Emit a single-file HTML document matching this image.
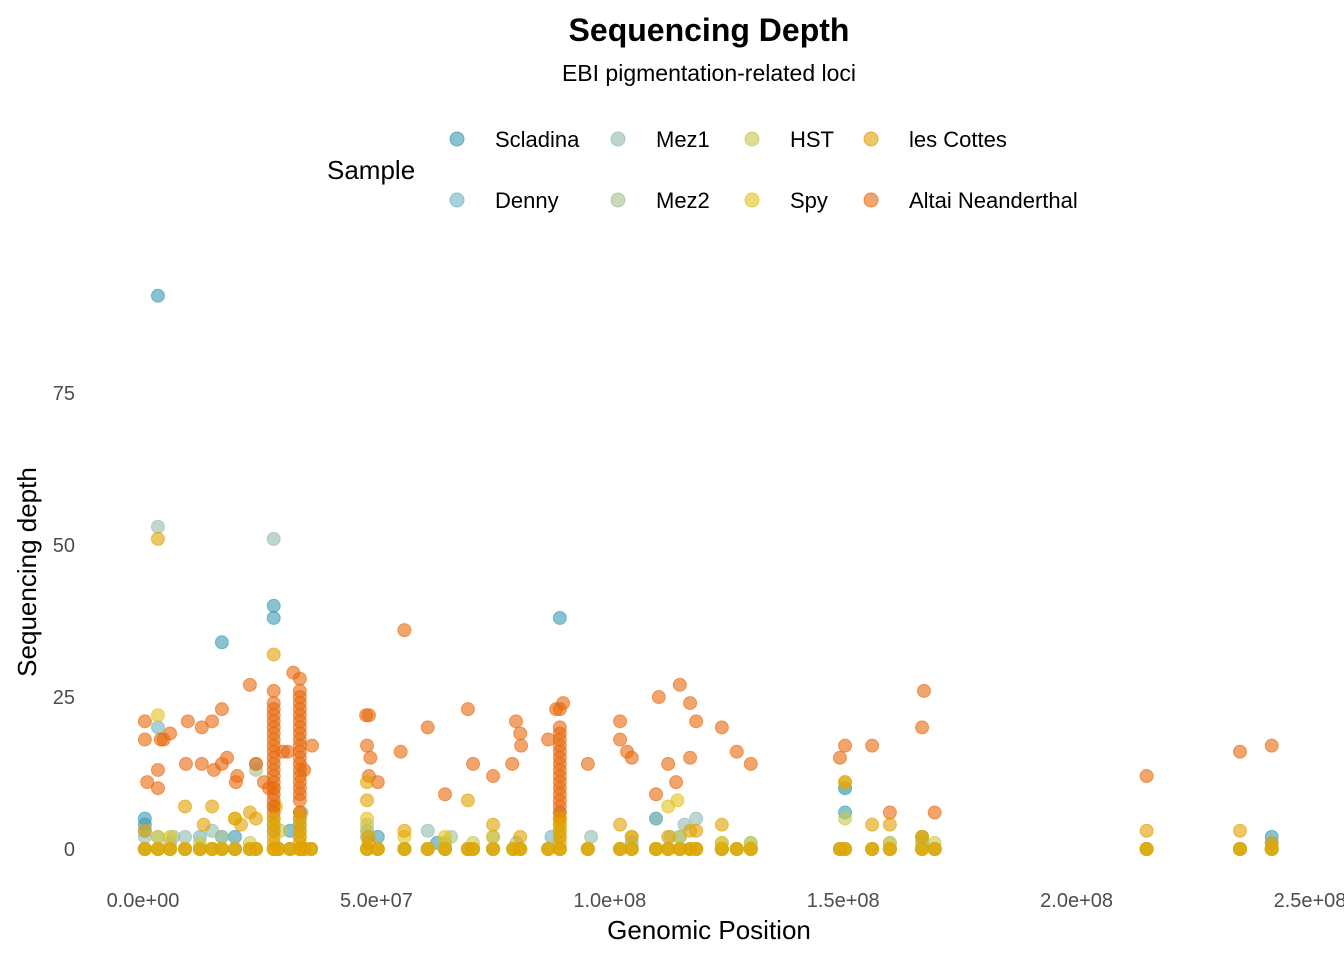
<!DOCTYPE html>
<html><head><meta charset="utf-8"><style>
body{margin:0;background:#fff;}
svg text{font-family:"Liberation Sans",sans-serif;}
</style></head><body>
<svg id="chart" width="1344" height="960" xmlns="http://www.w3.org/2000/svg">
<text x="709" y="41" text-anchor="middle" font-size="32" font-weight="bold" fill="#000">Sequencing Depth</text>
<text x="709" y="81" text-anchor="middle" font-size="23" fill="#000">EBI pigmentation-related loci</text>
<text x="327" y="179" font-size="26" fill="#000">Sample</text>
<g id="legend"></g>
<g id="yticks"></g>
<g id="xticks"></g>
<g id="points"></g>
<text x="709" y="939" text-anchor="middle" font-size="26" fill="#000">Genomic Position</text>
<text transform="translate(36,572) rotate(-90)" text-anchor="middle" font-size="26" fill="#000">Sequencing depth</text>
</svg>
<script>
const sampleNames=["Scladina","Denny","Mez1","Mez2","HST","Spy","les Cottes","Altai Neanderthal"];
const sampleColors=["#3B9AB2","#6FB2C1","#91BAB0","#A4C08F","#C9C84A","#E3C21C","#E1A000","#E8690C"];
const drawOrder=[0,1,2,3,4,5,7,6];
const yTickValues=[0,25,50,75];
const xTickValues=[0,5e7,1e8,1.5e8,2e8,2.5e8];
const xTickLabels=["0.0e+00","5.0e+07","1.0e+08","1.5e+08","2.0e+08","2.5e+08"];
// sites (Mb) where samples have depth 0
const zeroSites=[0.4,3.2,5.8,9,12.2,14.8,16.9,19.7,22.9,24.2,28,29,31.5,33.6,34.5,36,48,50.3,56,61,64.7,69.6,70.7,75,79.3,80.8,86.8,89.3,95.3,102.2,104.7,109.9,112.5,115,117.2,118.5,124,127.2,130.2,149.3,150.4,156.2,160,166.9,169.6,215,235,241.8];
const scladinaPos=[3.2,28,28,16.9,89.3,150.4,150.4,109.9,241.8,0.4,0.4,19.7,31.5,50.3,166.9,63];
const scladinaDepth=[91,40,38,34,38,6,10,5,2,5,4,2,3,2,2,1];
const dennyPos=[3.2,0.4,12.2,16.9,28,48,64.7,87.5,104.7,115,150.4,166.9,241.8,33.6];
const dennyDepth=[20,3,2,2,3,2,1,2,1,2,10,1,1,4];
const mez1Pos=[3.2,28,24.2,0.4,6.5,9,14.8,33.6,48,61,75,89.3,96,109.9,116,118.5,28,34];
const mez1Depth=[53,51,14,2,2,2,3,5,3,3,2,6,2,5,4,5,7,6];
const mez2Pos=[24.2,3.2,5.8,16.9,28,33.6,48,66,80,89.3,113,130.2,160,167,124];
const mez2Depth=[13,2,1,2,4,3,4,2,1,3,2,1,1,1,1];
const hstPos=[3.2,12.2,22.9,28,33.6,48,64.7,70.7,89.3,104.7,115,130.2,150.4,160,169.6,29.5];
const hstDepth=[2,1,1,5,2,3,1,1,2,2,2,1,5,1,1,3];
const spyPos=[3.2,5.8,19.7,28,33.6,48,56,64.7,75,89.3,112.5,114.5,124,150.4,166.9,28.5];
const spyDepth=[22,2,5,10,6,5,2,2,2,4,7,8,1,11,2,7];
const cottesPos=[3.2,0.4,9,14.8,19.7,22.9,28,24.2,48,48,56,69.6,75,80.8,89.3,102.2,104.7,112.5,117.2,118.5,124,150.4,156.2,160,166.9,215,235,241.8,13,21,
28,28,28,28,28,33.6,33.6,33.6,33.6,33.6,89.3,89.3,89.3,89.3,48.3,48.3];
const cottesDepth=[51,3,7,7,5,6,32,5,8,11,3,8,4,2,5,4,2,2,3,3,4,11,4,4,2,3,3,1,4,4,
1,2,3,4,5,1,2,3,4,5,1,2,3,4,1,2];
const altaiPos=[0.4,0.4,0.9,3.2,3.2,3.8,4.4,5.8,9.6,12.6,14.8,9.2,12.6,15.2,16.9,18,16.9,19.9,20.2,22.9,24.2,25.9,27,
28,28,28,28,28,28,28,28,28,28,28,28,28,28,28,28,28,28,28,28,
31,32.2,
33.6,33.6,33.6,33.6,33.6,33.6,33.6,33.6,33.6,33.6,33.6,33.6,33.6,33.6,33.6,33.6,33.6,33.6,33.6,33.6,33.6,
36.2,47.8,48.4,48,48.4,48.7,50.3,56,55.2,61,64.7,69.6,70.7,75,79.1,79.9,80.8,81,86.8,88.5,
89.3,89.3,89.3,89.3,89.3,89.3,89.3,89.3,89.3,89.3,89.3,89.3,89.3,89.3,89.3,89.3,89.3,
90,95.3,102.2,102.2,103.7,104.7,109.9,110.5,112.5,114.2,115,117.2,118.5,117.2,124,127.2,130.2,149.3,150.4,156.2,160,167.3,166.9,169.6,215,235,241.8,30,34.5];
const altaiDepth=[21,18,11,13,10,18,18,19,21,20,21,14,14,13,14,15,23,11,12,27,14,11,10,
7,8,9,10,11,12,13,14,15,16,17,18,19,20,21,22,23,24,26,6,
16,29,
6,8,9,10,11,12,13,14,15,16,17,18,19,20,21,22,23,24,25,26,28,
17,22,22,17,12,15,11,36,16,20,9,23,14,12,14,21,19,17,18,23,
6,7,8,9,10,11,12,13,14,15,16,17,18,19,20,23,5,
24,14,21,18,16,15,9,25,14,11,27,24,21,15,20,16,14,15,17,17,6,26,20,6,12,16,17,16,13];
const seriesPos=[scladinaPos,dennyPos,mez1Pos,mez2Pos,hstPos,spyPos,cottesPos,altaiPos];
const seriesDepth=[scladinaDepth,dennyDepth,mez1Depth,mez2Depth,hstDepth,spyDepth,cottesDepth,altaiDepth];

const NS="http://www.w3.org/2000/svg";
const xScale=v=>143+(v/5e7)*233.4;
const yScale=v=>849-v*6.08;
const mk=(t,a,p)=>{const e=document.createElementNS(NS,t);for(const k in a)e.setAttribute(k,a[k]);p.appendChild(e);return e;};

const yg=document.getElementById('yticks');
yTickValues.forEach(v=>{const t=mk('text',{x:75,y:yScale(v)+7,'text-anchor':'end','font-size':20,fill:'#4d4d4d'},yg);t.textContent=v;

});
const xg=document.getElementById('xticks');
xTickValues.forEach((v,i)=>{const t=mk('text',{x:xScale(v),y:907,'text-anchor':'middle','font-size':20,fill:'#4d4d4d'},xg);t.textContent=xTickLabels[i];

});

const lg=document.getElementById('legend');
const lx=[457,618,752,871],ly=[139,200];
sampleNames.forEach((n,i)=>{const col=Math.floor(i/2),row=i%2;
const c=mk('circle',{cx:lx[col],cy:ly[row],r:7,fill:sampleColors[i],'fill-opacity':0.6,stroke:sampleColors[i],'stroke-opacity':0.7,'stroke-width':1},lg);


const t=mk('text',{x:lx[col]+38,y:ly[row]+8,'font-size':22,fill:'#000'},lg);t.textContent=n;

});

const pg=document.getElementById('points');
drawOrder.forEach(i=>{
  const n=sampleNames[i];
  const g=mk('g',{},pg);
  
  
  const base=(i===7)?[]:zeroSites.map(s=>[s,0]);
  const pts=base.concat(seriesPos[i].map((p,j)=>[p,seriesDepth[i][j]]));
  pts.forEach(([p,d])=>{
    const c=mk('circle',{cx:xScale(p*1e6),cy:yScale(d),r:6.5,fill:sampleColors[i],'fill-opacity':0.6,stroke:sampleColors[i],'stroke-opacity':0.6,'stroke-width':1},g);
    
    
  });
});
</script>
</body></html>
